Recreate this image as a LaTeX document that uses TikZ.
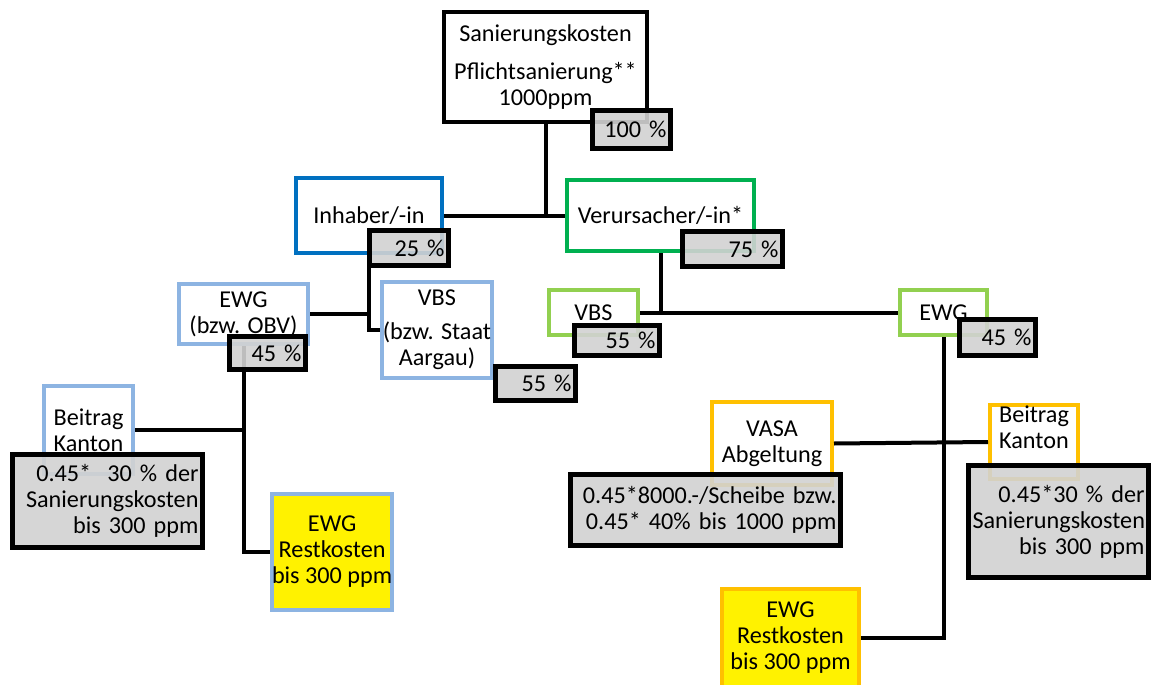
\documentclass[tikz,border=0pt]{standalone}
\usepackage{fontspec}
\setmainfont{Carlito}
\usepackage{xcolor}
\def\px{0.5pt}
\newcommand\boxfont{\fontsize{12.1pt}{13pt}\selectfont\hyphenpenalty=10000\relax}
\definecolor{dunkelblau}{RGB}{0,112,192}
\definecolor{hellblau}{RGB}{141,180,226}
\definecolor{dunkelgruen}{RGB}{0,176,80}
\definecolor{hellgruen}{RGB}{146,208,80}
\definecolor{orange}{RGB}{255,192,0}
\definecolor{anteil}{RGB}{210,210,210}

\tikzset{
  kasten/.style n args={3}{draw=#1, line width=2pt, inner sep=0pt, align=center,
    font=\boxfont, anchor=north west, minimum width=#2*\px, minimum height=#3*\px},
  prozent/.style n args={2}{draw=black, fill=anteil, fill opacity=0.9, text opacity=1,
    line width=2.5pt, inner xsep=2pt, inner ysep=0pt, align=right, font=\boxfont,
    anchor=north west, text width=#1*\px-4pt, minimum height=#2*\px},
  linie/.style={line width=2pt}
}

\begin{document}
\begin{tikzpicture}[x=0.5pt, y=-0.5pt]
      \useasboundingbox (0,0) rectangle (1153,685);

      % Ebene 1
      \node[kasten={black}{203}{110}] (kosten) at (442,10)
        {Sanierungskosten\\[6pt]Pflichtsanierung**\\1000ppm};

      % Ebene 2
      \node[kasten={dunkelblau}{146}{75}] (inhaber) at (294,176) {Inhaber/-in};
      \node[kasten={dunkelgruen}{187}{71}] (verurs) at (565,178) {Verursacher/-in*};

      % Ebene 3
      \node[kasten={hellblau}{129}{60}] (ewgl) at (177,282) {EWG\\(bzw. OBV)};
      \node[kasten={hellblau}{110}{96}] (vbsl) at (380,280) {VBS\\[4pt](bzw. Staat\\Aargau)};
      \node[kasten={hellgruen}{89}{45}] (vbsg) at (547,288) {VBS};
      \node[kasten={hellgruen}{87}{45}] (ewgg) at (898,288) {EWG};

      % Ebene 4
      \node[kasten={hellblau}{89}{88}] (beitragl) at (42,384) {Beitrag\\Kanton};
      \node[kasten={hellblau}{115}{116}, fill=yellow] (restl) at (270,492)
        {EWG\\Restkosten\\bis 300 ppm};
      \node[kasten={orange}{120}{83}] (vasa) at (710,400) {VASA\\Abgeltung};
      \node[kasten={orange}{88}{74}] (beitragr) at (988,403) {Beitrag\\Kanton\\[2pt]};
      \node[kasten={orange}{137}{98}, fill=yellow] (restr) at (720,587)
        {EWG\\Restkosten\\bis 300 ppm};

      % Verbindungen
      \draw[linie] (kosten.south) -- (kosten.south |- inhaber.east);
      \draw[linie] (inhaber.east) -- (verurs.west);
      \draw[linie] (inhaber.south) -- (inhaber.south |- vbsl.west) -- (vbsl.west);
      \draw[linie] (ewgl.east) -- (ewgl.east -| inhaber.south);
      \draw[linie] (verurs.south) -- (verurs.south |- vbsg.east);
      \draw[linie] (vbsg.east) -- (ewgg.west);
      \draw[linie] (ewgl.south) -- (ewgl.south |- restl.west) -- (restl.west);
      \draw[linie] (beitragl.east) -- (beitragl.east -| ewgl.south);
      \draw[linie] (ewgg.south) -- (ewgg.south |- restr.east) -- (restr.east);
      \draw[linie] (vasa.east) -- (beitragr.west);

      % Anteile
      \node[prozent={78}{38}] (p100) at (590,108) {100 \%};
      \node[prozent={79}{35}] (p25) at (367,228) {25 \%};
      \node[prozent={100}{35}] (p75) at (680,229) {75 \%};
      \node[prozent={76}{33}] (p45l) at (227,334) {45 \%};
      \node[prozent={80}{34}] (p55l) at (493,364) {55 \%};
      \node[prozent={85}{30}] (p55g) at (572,323) {55 \%};
      \node[prozent={76}{36}] (p45g) at (957,317) {45 \%};
      \node[prozent={190}{93}] (betragl) at (10,452)
        {0.45*\ \ 30 \% der\\Sanierungskosten\\bis 300 ppm};
      \node[prozent={270}{71}] (betragv) at (568,472)
        {0.45*8000.-/Scheibe bzw.\\0.45* 40\% bis 1000 ppm};
      \node[prozent={180}{112}] (betragr) at (966,463)
        {0.45*30 \% der\\Sanierungskosten\\bis 300 ppm};
\end{tikzpicture}
\end{document}
